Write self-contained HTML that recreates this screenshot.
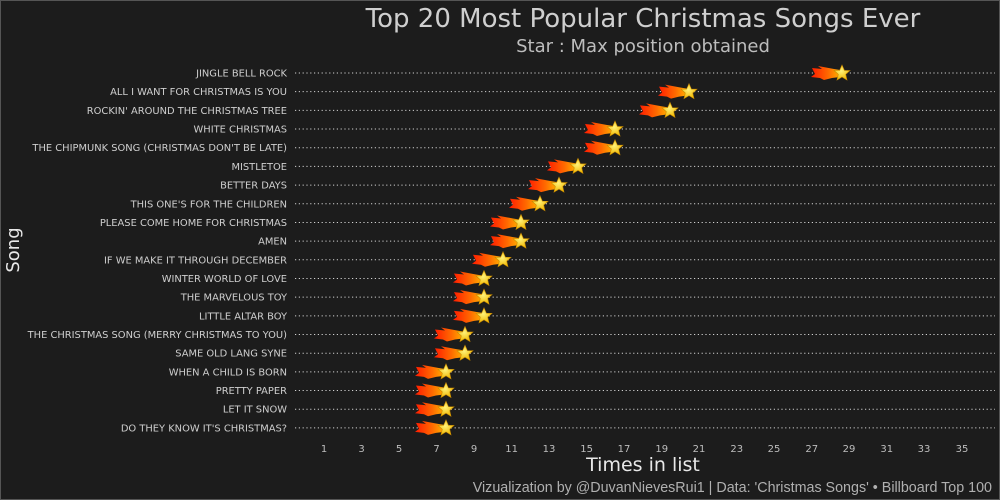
<!DOCTYPE html>
<html><head><style>
body{margin:0;background:#1c1c1c;}
svg{display:block;font-family:"DejaVu Sans","Liberation Sans",sans-serif;}
</style></head><body>
<svg width="1000" height="500" viewBox="0 0 1000 500">
<defs>
<linearGradient id="tg" x1="0" x2="1" y1="0" y2="0">
<stop offset="0" stop-color="#ff1a00"/><stop offset="0.6" stop-color="#ff6a00"/><stop offset="1" stop-color="#ffb000"/>
</linearGradient>
<radialGradient id="sg" cx="0.45" cy="0.4" r="0.6">
<stop offset="0" stop-color="#fff27a"/><stop offset="1" stop-color="#f0b800"/>
</radialGradient>
<g id="st">
<path d="M-30,-5 L-20,-4 L-24,-7 L-8,-4 L-2,-3 L-2,4 L-10,5 L-18,7 L-22,5 L-31,4 L-27,1 Z" fill="url(#tg)"/>
<path d="M0,-8 L2.4,-2.6 L8,-2.5 L3.7,1.3 L5,7 L0,4 L-5,7 L-3.7,1.3 L-8,-2.5 L-2.4,-2.6 Z" fill="url(#sg)" stroke="#c98a00" stroke-width="0.6"/>
</g>
</defs>
<rect x="0.5" y="0.5" width="999" height="499" fill="#1c1c1c" stroke="#555"/>
<text x="643" y="27" text-anchor="middle" font-size="26" fill="#cfcfcf">Top 20 Most Popular Christmas Songs Ever</text>
<text x="643" y="52" text-anchor="middle" font-size="18" fill="#bdbdbd">Star : Max position obtained</text>
<text transform="translate(19,250) rotate(-90)" text-anchor="middle" font-size="18" fill="#e8e8e8">Song</text>
<text x="643" y="471" text-anchor="middle" font-size="19" fill="#e8e8e8">Times in list</text>
<text x="992" y="492" text-anchor="end" font-size="14.3" fill="#b0b0b0" style="font-family:'Liberation Sans',sans-serif">Vizualization by @DuvanNievesRui1 | Data: 'Christmas Songs' • Billboard Top 100</text>
<g font-size="10" fill="#bdbdbd" text-anchor="middle">
<text x="324" y="452">1</text><text x="361.5" y="452">3</text><text x="399" y="452">5</text><text x="436.6" y="452">7</text><text x="474" y="452">9</text><text x="511.6" y="452">11</text><text x="549" y="452">13</text><text x="586.6" y="452">15</text><text x="624" y="452">17</text><text x="661.7" y="452">19</text><text x="699" y="452">21</text><text x="736.7" y="452">23</text><text x="774" y="452">25</text><text x="811.8" y="452">27</text><text x="849" y="452">29</text><text x="886.8" y="452">31</text><text x="924" y="452">33</text><text x="962" y="452">35</text>
</g>
<g id="rows" font-size="9.9" fill="#cfcfcf" text-anchor="end"></g>
</svg>
<script>
var names=["JINGLE BELL ROCK","ALL I WANT FOR CHRISTMAS IS YOU","ROCKIN' AROUND THE CHRISTMAS TREE","WHITE CHRISTMAS","THE CHIPMUNK SONG (CHRISTMAS DON'T BE LATE)","MISTLETOE","BETTER DAYS","THIS ONE'S FOR THE CHILDREN","PLEASE COME HOME FOR CHRISTMAS","AMEN","IF WE MAKE IT THROUGH DECEMBER","WINTER WORLD OF LOVE","THE MARVELOUS TOY","LITTLE ALTAR BOY","THE CHRISTMAS SONG (MERRY CHRISTMAS TO YOU)","SAME OLD LANG SYNE","WHEN A CHILD IS BORN","PRETTY PAPER","LET IT SNOW","DO THEY KNOW IT'S CHRISTMAS?"];
var xs=[842,689,670,615,615,578,559,540,521,521,503,484,484,484,465,465,446,446,446,446];
var g=document.getElementById('rows'),h="";
for(var i=0;i<20;i++){var y=73+i*18.68;
h+='<line x1="295" x2="995" y1="'+y+'" y2="'+y+'" stroke="#d0d0d0" stroke-width="1" stroke-dasharray="1.2,2.6"/>';
h+='<text x="287" y="'+(y+3.5)+'">'+names[i].replace(/'/g,"&#39;")+'</text>';
h+='<use href="#st" x="'+xs[i]+'" y="'+y+'"/>';}
g.innerHTML=h;
</script>
</body></html>
